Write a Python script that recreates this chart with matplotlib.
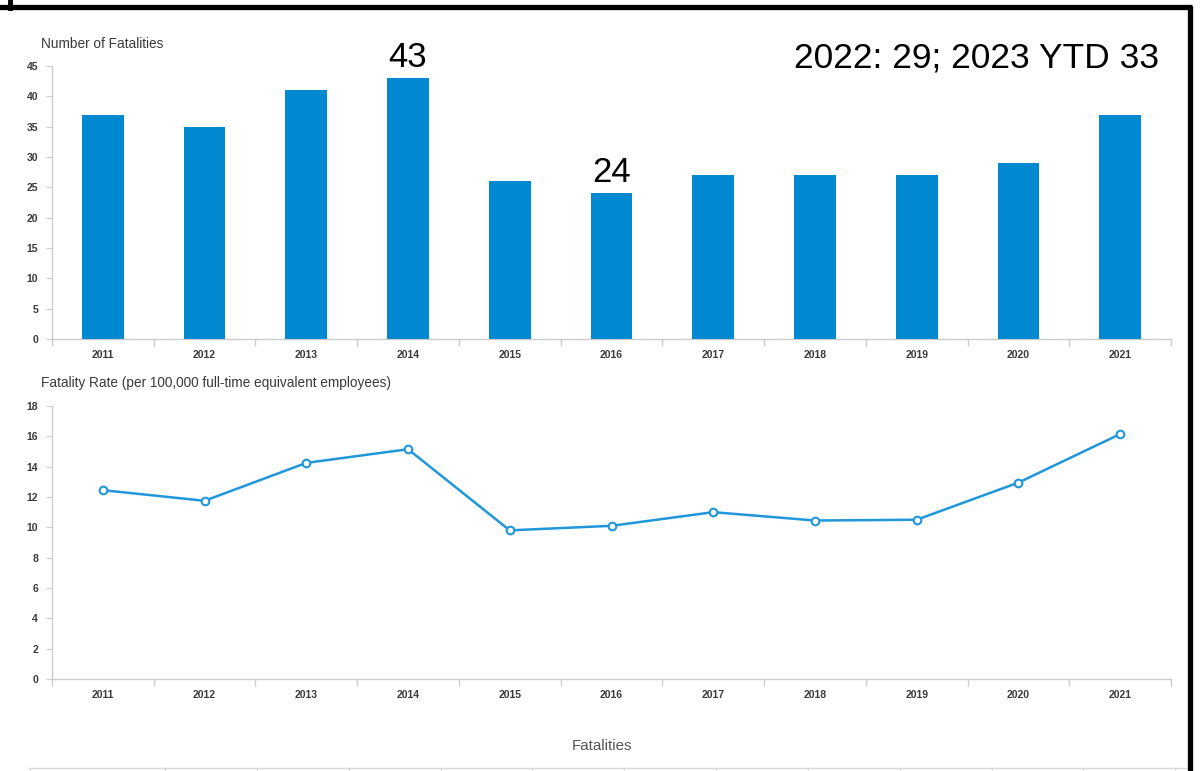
import matplotlib
matplotlib.use("Agg")
import matplotlib.pyplot as plt
from matplotlib.lines import Line2D
import numpy as np

plt.rcParams['font.family'] = ['Liberation Sans', 'DejaVu Sans']

years = ['2011', '2012', '2013', '2014', '2015', '2016', '2017', '2018', '2019', '2020', '2021']
fatalities = [37, 35, 41, 43, 26, 24, 27, 27, 27, 29, 37]
rates = [12.45, 11.75, 14.25, 15.15, 9.8, 10.1, 11.0, 10.45, 10.5, 12.95, 16.15]
top_yticks = [0, 5, 10, 15, 20, 25, 30, 35, 40, 45]
bot_yticks = [0, 2, 4, 6, 8, 10, 12, 14, 16, 18]

W, H = 1201, 771
fig = plt.figure(figsize=(W / 100, H / 100), dpi=100)

def fx(px):
    return px / W

def fy(py):
    return 1 - py / H

bar_color = '#0089d1'
line_color = '#1f97da'
grid_grey = '#cccccc'
text_grey = '#3a3a3a'

x = np.arange(len(years))

def style_axes(ax, yticks):
    ax.set_xlim(-0.5, len(years) - 0.5)
    ax.set_ylim(yticks[0], yticks[-1])
    ax.set_yticks(yticks)
    ax.set_xticks(x)
    ax.set_xticklabels(years)
    ax.set_xticks(np.arange(-0.5, len(years)), minor=True)
    for s in ['top', 'right']:
        ax.spines[s].set_visible(False)
    for s in ['left', 'bottom']:
        ax.spines[s].set_color(grid_grey)
        ax.spines[s].set_linewidth(1.0)
    ax.tick_params(axis='x', which='major', length=0, pad=8, labelsize=7.5, labelcolor=text_grey)
    ax.tick_params(axis='x', which='minor', length=5, color=grid_grey, width=1)
    ax.tick_params(axis='y', length=4, color=grid_grey, pad=6, labelsize=7.5, labelcolor=text_grey)
    for lab in ax.get_xticklabels() + ax.get_yticklabels():
        lab.set_fontweight('bold')

# top axes
ax1 = fig.add_axes([fx(52), fy(339), fx(1171) - fx(52), fy(66) - fy(339)])
ax1.bar(x, fatalities, width=0.41, color=bar_color, zorder=3)
style_axes(ax1, top_yticks)
fig.text(fx(41), fy(44), 'Number of Fatalities', fontsize=9.8, color=text_grey, va='center', ha='left')

# annotations
ax1.text(x[3], fatalities[3] + 1.8, str(fatalities[3]), ha='center', va='baseline', fontsize=25, color='black')
ax1.text(x[5], fatalities[5] + 1.8, str(fatalities[5]), ha='center', va='baseline', fontsize=25, color='black')
fig.text(fx(1159), fy(67), '2022: 29; 2023 YTD 33', ha='right', va='baseline', fontsize=25.5, color='black')

# bottom axes
ax2 = fig.add_axes([fx(52), fy(679), fx(1171) - fx(52), fy(406) - fy(679)])
ax2.plot(x, rates, color=line_color, lw=1.8, marker='o', ms=5.5, mfc='white', mec=line_color, mew=1.5, zorder=3)
style_axes(ax2, bot_yticks)
fig.text(fx(41), fy(383), 'Fatality Rate (per 100,000 full-time equivalent employees)', fontsize=9.8,
         color=text_grey, va='center', ha='left')

fig.text(fx(602), fy(746), 'Fatalities', ha='center', va='center', fontsize=10.9, color='#555555')

# table edge at the bottom
fig.add_artist(Line2D([fx(29), fx(1190)], [fy(767.5), fy(767.5)], color='#d9d9d9', lw=1))
for px in [30, 165, 257, 349, 441, 532, 624, 716, 808, 900, 992, 1083, 1175]:
    fig.add_artist(Line2D([fx(px), fx(px)], [fy(767.5), 0], color='#d9d9d9', lw=1))

# black frame
fig.add_artist(Line2D([0, fx(1190)], [fy(6.5), fy(6.5)], color='black', lw=3.8, solid_capstyle='round'))
fig.add_artist(Line2D([fx(1190), fx(1190)], [fy(6.5), 0], color='black', lw=3.8, solid_capstyle='round'))
fig.add_artist(Line2D([fx(10), fx(10)], [1, fy(8)], color='black', lw=3.5))

fig.savefig('out.png', dpi=100, facecolor='white')
